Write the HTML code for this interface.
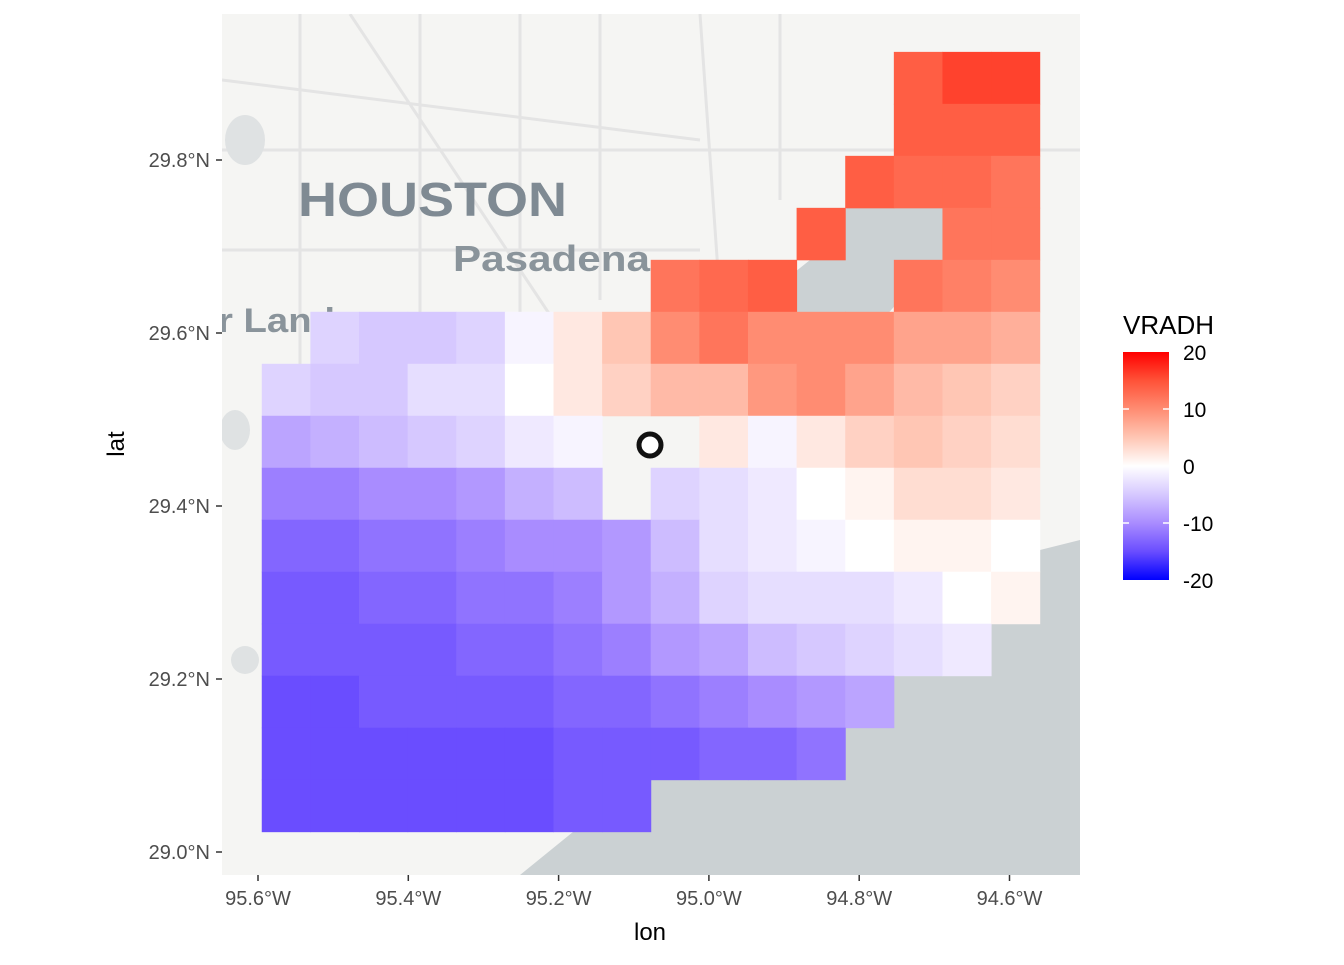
<!DOCTYPE html>
<html><head><meta charset="utf-8"><style>
body{margin:0;background:#fff;}
svg text{font-family:"Liberation Sans",Arial,sans-serif;}
</style></head><body>
<svg id="chart" width="1344" height="960" viewBox="0 0 1344 960" xmlns="http://www.w3.org/2000/svg">
<defs>
<linearGradient id="cb" x1="0" y1="1" x2="0" y2="0">
<stop offset="0" stop-color="#0000ff"/><stop offset="0.125" stop-color="#6a4dff"/>
<stop offset="0.25" stop-color="#a98cff"/><stop offset="0.375" stop-color="#d6c8ff"/>
<stop offset="0.5" stop-color="#ffffff"/><stop offset="0.625" stop-color="#ffc6b4"/>
<stop offset="0.75" stop-color="#ff8c72"/><stop offset="0.875" stop-color="#ff5238"/>
<stop offset="1" stop-color="#ff0000"/>
</linearGradient>
<clipPath id="pc"><rect x="222" y="14" width="858" height="861"/></clipPath>
</defs>
<g clip-path="url(#pc)">
<rect x="222" y="14" width="858" height="861" fill="#f5f5f3"/>
<g stroke="#e4e4e4" stroke-width="3" fill="none">
<path d="M222 150 H1080 M222 250 H700 M300 14 V400 M420 14 V420 M520 14 V330 M600 14 V300 M222 80 L700 140 M350 14 L560 330 M700 14 L720 300 M780 14 V200"/>
</g>
<path d="M520 875 L600 810 L660 770 L720 720 L800 660 L880 615 L960 580 L1040 550 L1080 540 L1080 875 Z" fill="#cbd1d3"/>
<path d="M700 360 L760 300 L810 260 L845 210 L880 170 L930 150 L965 200 L945 260 L900 300 L860 345 L820 385 L760 395 L715 405 Z" fill="#cbd1d3"/>
<ellipse cx="245" cy="140" rx="20" ry="25" fill="#dfe2e3"/>
<ellipse cx="235" cy="430" rx="15" ry="20" fill="#dfe2e3"/>
<ellipse cx="245" cy="660" rx="14" ry="14" fill="#dfe2e3"/>
<text x="298" y="216" font-size="48" font-weight="bold" fill="#7f8a93" textLength="269" lengthAdjust="spacingAndGlyphs">HOUSTON</text>
<text x="453" y="271" font-size="36" font-weight="bold" fill="#8a949b" textLength="197" lengthAdjust="spacingAndGlyphs">Pasadena</text>
<text x="218" y="332" font-size="34" font-weight="bold" fill="#8a949b" textLength="117" lengthAdjust="spacingAndGlyphs">r Land</text>
<g id="cells"></g>
<circle cx="650" cy="445" r="11" fill="#fff" stroke="#111" stroke-width="5"/>
</g>
<g id="axes" font-size="20" fill="#4d4d4d"></g>
<text x="650" y="940" font-size="24" text-anchor="middle" fill="#000">lon</text>
<text x="124" y="444" font-size="24" text-anchor="middle" fill="#000" transform="rotate(-90 124 444)">lat</text>
<g>
<text x="1123" y="334" font-size="26" fill="#000">VRADH</text>
<rect x="1123" y="352" width="46" height="228" fill="url(#cb)"/>
<g stroke="#fff" stroke-width="1.5">
<line x1="1123" y1="409" x2="1129" y2="409"/><line x1="1163" y1="409" x2="1169" y2="409"/>
<line x1="1123" y1="466" x2="1129" y2="466"/><line x1="1163" y1="466" x2="1169" y2="466"/>
<line x1="1123" y1="523" x2="1129" y2="523"/><line x1="1163" y1="523" x2="1169" y2="523"/>
</g>
<g id="legend-labels" font-size="21" fill="#000"></g>
</g>
</svg>
<script>
const legendValues = [20, 10, 0, -10, -20];
const xTicks = [-95.6, -95.4, -95.2, -95.0, -94.8, -94.6];
const xTickLabels = ["95.6°W", "95.4°W", "95.2°W", "95.0°W", "94.8°W", "94.6°W"];
const yTicks = [29.8, 29.6, 29.4, 29.2, 29.0];
const yTickLabels = ["29.8°N", "29.6°N", "29.4°N", "29.2°N", "29.0°N"];
const lonStart = -95.595, lonStep = 0.0647, latTop = 29.925, latStep = 0.0601;
const N = null;
const vradh = [
[N,N,N,N,N,N,N,N,N,N,N,N,N,14,16,16],
[N,N,N,N,N,N,N,N,N,N,N,N,N,14,14,14],
[N,N,N,N,N,N,N,N,N,N,N,N,14,13,13,12],
[N,N,N,N,N,N,N,N,N,N,N,14,N,N,12,12],
[N,N,N,N,N,N,N,N,12,13,14,N,N,12,11,10],
[N,-4,-5,-5,-4,-1,2,5,10,12,10,10,10,8,8,7],
[-4,-5,-5,-3,-3,0,2,4,6,6,9,10,8,6,5,4],
[-8,-7,-6,-5,-4,-2,-1,N,N,2,-1,2,4,5,4,3],
[-11,-11,-10,-10,-9,-7,-6,N,-4,-3,-2,0,1,3,3,2],
[-13,-13,-12,-12,-11,-10,-10,-9,-6,-3,-2,-1,0,1,1,0],
[-14,-14,-13,-13,-12,-12,-11,-9,-7,-4,-3,-3,-3,-2,0,1],
[-14,-14,-14,-14,-13,-13,-12,-11,-9,-8,-6,-5,-4,-3,-2,N],
[-15,-15,-14,-14,-14,-14,-13,-13,-12,-11,-10,-9,-8,N,N,N],
[-15,-15,-15,-15,-15,-15,-14,-14,-14,-13,-13,-12,N,N,N,N],
[-15,-15,-15,-15,-15,-15,-14,-14,N,N,N,N,N,N,N,N]
];
const NS = "http://www.w3.org/2000/svg";
function xScale(lon){ return 258 + (lon + 95.6) / 0.2 * 150.3; }
function yScale(lat){ return 852 - (lat - 29.0) / 0.2 * 173; }
function vScale(v){ return 352 + (20 - v) / 40 * 228; }
const stops = [[-20,[0,0,255]],[-15,[106,77,255]],[-10,[169,140,255]],[-5,[214,200,255]],[0,[255,255,255]],[5,[255,198,180]],[10,[255,140,114]],[15,[255,82,56]],[20,[255,0,0]]];
function color(v){
  v = Math.max(-20, Math.min(20, v));
  for (let i = 0; i < stops.length - 1; i++) {
    const a = stops[i], b = stops[i+1];
    if (v <= b[0]) { const t = (v - a[0]) / (b[0] - a[0]);
      const c = a[1].map((x, k) => Math.round(x + (b[1][k] - x) * t));
      return "rgb(" + c.join(",") + ")"; }
  }
  return "rgb(255,0,0)";
}
const cells = document.getElementById("cells");
vradh.forEach((row, j) => row.forEach((v, i) => {
  if (v === null) return;
  const x0 = xScale(lonStart + i * lonStep), x1 = xScale(lonStart + (i + 1) * lonStep);
  const y0 = yScale(latTop - j * latStep), y1 = yScale(latTop - (j + 1) * latStep);
  const r = document.createElementNS(NS, "rect");
  r.setAttribute("x", x0); r.setAttribute("y", y0);
  r.setAttribute("width", x1 - x0 + 0.5); r.setAttribute("height", y1 - y0 + 0.5);
  r.setAttribute("fill", color(v));
  
  
  cells.appendChild(r);
}));
const axes = document.getElementById("axes");
xTicks.forEach((t, i) => {
  const x = xScale(t);
  const l = document.createElementNS(NS, "line");
  l.setAttribute("x1", x); l.setAttribute("x2", x); l.setAttribute("y1", 875); l.setAttribute("y2", 881);
  l.setAttribute("stroke", "#333"); l.setAttribute("stroke-width", "1.5");
  
  
  axes.appendChild(l);
  const tx = document.createElementNS(NS, "text");
  tx.setAttribute("x", x); tx.setAttribute("y", 905); tx.setAttribute("text-anchor", "middle");
  tx.textContent = xTickLabels[i];
  
  
  axes.appendChild(tx);
});
yTicks.forEach((t, i) => {
  const y = yScale(t);
  const l = document.createElementNS(NS, "line");
  l.setAttribute("x1", 216); l.setAttribute("x2", 222); l.setAttribute("y1", y); l.setAttribute("y2", y);
  l.setAttribute("stroke", "#333"); l.setAttribute("stroke-width", "1.5");
  
  
  axes.appendChild(l);
  const tx = document.createElementNS(NS, "text");
  tx.setAttribute("x", 210); tx.setAttribute("y", y + 7); tx.setAttribute("text-anchor", "end");
  tx.textContent = yTickLabels[i];
  
  
  axes.appendChild(tx);
});
const ll = document.getElementById("legend-labels");
legendValues.forEach(v => {
  const tx = document.createElementNS(NS, "text");
  tx.setAttribute("x", 1183); tx.setAttribute("y", vScale(v) + 8);
  tx.textContent = String(v);
  
  
  ll.appendChild(tx);
});
</script>
</body></html>
